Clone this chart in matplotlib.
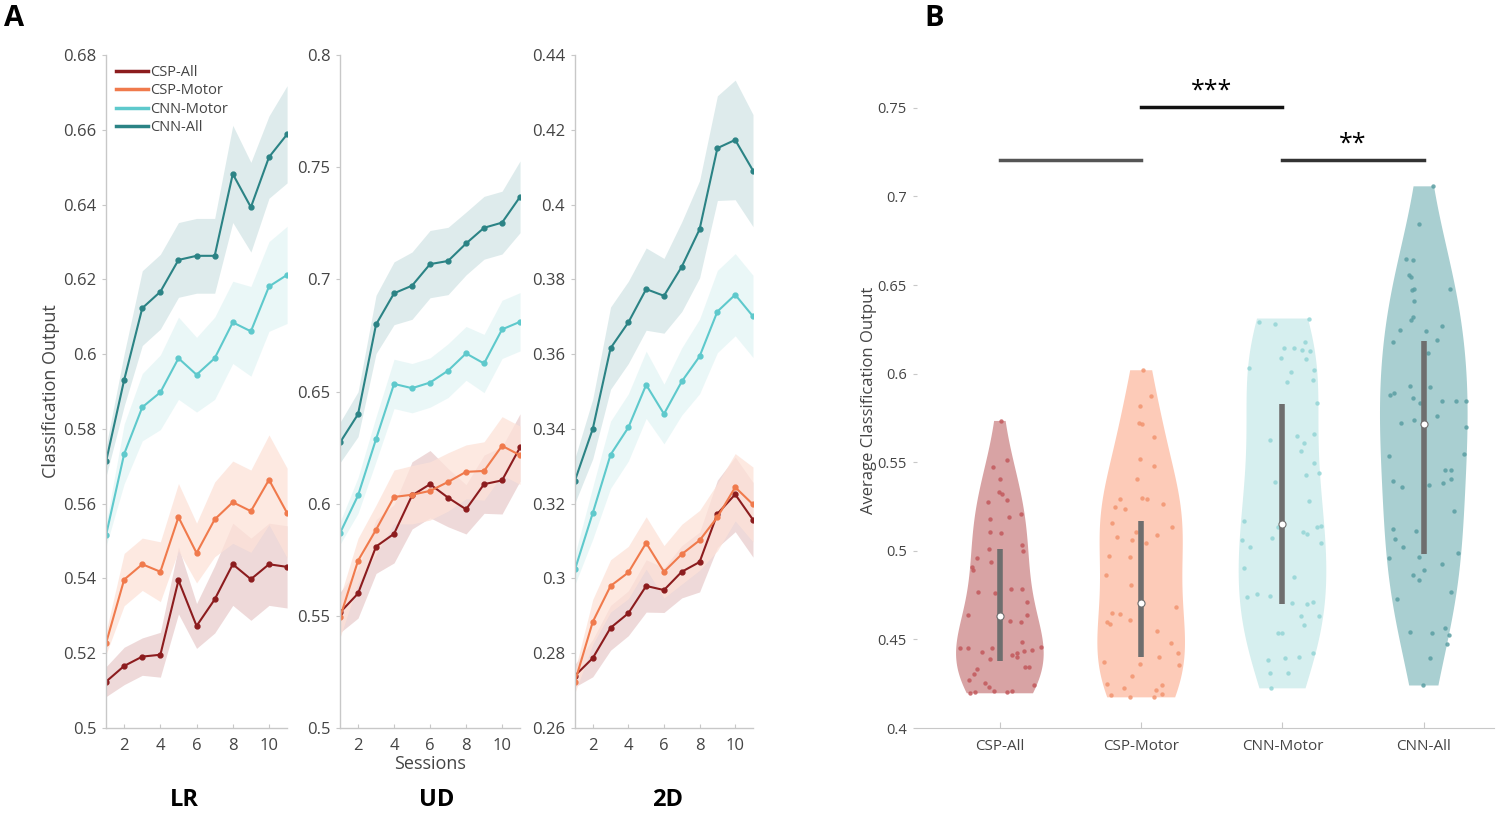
import numpy as np
import matplotlib
matplotlib.use("Agg")
import matplotlib.pyplot as plt

plt.rcParams['font.family'] = ['Open Sans', 'DejaVu Sans']

# ---------------- panel A data (mean and shaded band half-width per session)
sessions = np.arange(1, 12)
names = ["CSP-All", "CSP-Motor", "CNN-Motor", "CNN-All"]

lr_csp_all = [0.5124, 0.5166, 0.5191, 0.5196, 0.5395, 0.5273, 0.5344, 0.5438, 0.5398, 0.5438, 0.5431]
lr_csp_motor = [0.5227, 0.5397, 0.5438, 0.5418, 0.5564, 0.5468, 0.5558, 0.5604, 0.5580, 0.5664, 0.5575]
lr_cnn_motor = [0.5516, 0.5733, 0.5858, 0.5898, 0.5989, 0.5945, 0.5989, 0.6085, 0.6061, 0.6181, 0.6212]
lr_cnn_all = [0.5713, 0.5931, 0.6123, 0.6167, 0.6252, 0.6263, 0.6263, 0.6482, 0.6393, 0.6527, 0.6588]
lr_sem_csp_all = [0.004, 0.005, 0.005, 0.006, 0.009, 0.006, 0.009, 0.011, 0.011, 0.011, 0.011]
lr_sem_csp_motor = [0.003, 0.007, 0.007, 0.008, 0.009, 0.008, 0.010, 0.011, 0.011, 0.012, 0.012]
lr_sem_cnn_motor = [0.003, 0.008, 0.009, 0.010, 0.011, 0.010, 0.011, 0.011, 0.012, 0.012, 0.013]
lr_sem_cnn_all = [0.004, 0.007, 0.010, 0.010, 0.010, 0.010, 0.010, 0.013, 0.012, 0.011, 0.013]

ud_csp_all = [0.5515, 0.5600, 0.5809, 0.5866, 0.6037, 0.6087, 0.6027, 0.5975, 0.6087, 0.6104, 0.6251]
ud_csp_motor = [0.5493, 0.5746, 0.5884, 0.6030, 0.6040, 0.6057, 0.6097, 0.6142, 0.6146, 0.6258, 0.6216]
ud_cnn_motor = [0.5869, 0.6037, 0.6288, 0.6534, 0.6515, 0.6540, 0.6593, 0.6670, 0.6625, 0.6777, 0.6811]
ud_cnn_all = [0.6273, 0.6399, 0.6799, 0.6938, 0.6972, 0.7068, 0.7082, 0.7160, 0.7230, 0.7253, 0.7368]
ud_sem_csp_all = [0.009, 0.011, 0.012, 0.013, 0.015, 0.015, 0.013, 0.011, 0.013, 0.015, 0.015]
ud_sem_csp_motor = [0.009, 0.010, 0.011, 0.012, 0.013, 0.013, 0.013, 0.012, 0.013, 0.013, 0.013]
ud_sem_cnn_motor = [0.005, 0.008, 0.010, 0.011, 0.011, 0.011, 0.012, 0.012, 0.013, 0.013, 0.013]
ud_sem_cnn_all = [0.009, 0.010, 0.013, 0.014, 0.015, 0.015, 0.015, 0.014, 0.014, 0.014, 0.016]

d2_csp_all = [0.2740, 0.2787, 0.2868, 0.2907, 0.2980, 0.2969, 0.3018, 0.3044, 0.3173, 0.3225, 0.3157]
d2_csp_motor = [0.2724, 0.2884, 0.2980, 0.3016, 0.3095, 0.3018, 0.3065, 0.3102, 0.3164, 0.3244, 0.3198]
d2_cnn_motor = [0.3024, 0.3175, 0.3331, 0.3404, 0.3518, 0.3440, 0.3527, 0.3594, 0.3714, 0.3759, 0.3701]
d2_cnn_all = [0.3262, 0.3400, 0.3616, 0.3685, 0.3774, 0.3756, 0.3834, 0.3934, 0.4151, 0.4173, 0.4091]
d2_sem_csp_all = [0.003, 0.005, 0.006, 0.006, 0.007, 0.006, 0.007, 0.008, 0.009, 0.010, 0.010]
d2_sem_csp_motor = [0.003, 0.006, 0.007, 0.007, 0.007, 0.007, 0.008, 0.008, 0.009, 0.009, 0.010]
d2_sem_cnn_motor = [0.004, 0.007, 0.009, 0.009, 0.009, 0.008, 0.009, 0.010, 0.011, 0.011, 0.011]
d2_sem_cnn_all = [0.006, 0.008, 0.011, 0.011, 0.011, 0.010, 0.012, 0.013, 0.014, 0.016, 0.015]

line_colors = ["#8c1c1e", "#f07a4c", "#5ec9cc", "#2b8385"]
band_colors = ["#e9cdcd", "#fde2d8", "#e4f5f5", "#d3e5e6"]

# ---------------- panel B data (per-subject averages, jitter)
csp_all_vals = [0.5733, 0.5515, 0.5474, 0.5408, 0.5333, 0.5318, 0.5286, 0.5276, 0.5179, 0.5192,
                0.5207, 0.5107, 0.5102, 0.5032, 0.5000, 0.5010, 0.4938, 0.4961, 0.4910, 0.4891,
                0.4769, 0.4760, 0.4782, 0.4782, 0.4712, 0.4637, 0.4637, 0.4605, 0.4600, 0.4449,
                0.4449, 0.4430, 0.4449, 0.4387, 0.4412, 0.4421, 0.4399, 0.4436, 0.4440, 0.4459,
                0.4487, 0.4346, 0.4342, 0.4331, 0.4305, 0.4271, 0.4256, 0.4233, 0.4210, 0.4205,
                0.4205, 0.4243, 0.4209, 0.4196]
csp_all_jit = [0.005, 0.052, -0.047, 0.0, -0.007, 0.017, 0.052, -0.083, -0.071, 0.064,
               0.147, -0.071, 0.005, 0.154, 0.165, -0.078, -0.061, -0.161, -0.196, -0.191,
               -0.154, -0.035, 0.076, 0.154, 0.189, -0.225, 0.194, 0.071, 0.147, -0.284,
               -0.225, -0.125, -0.054, -0.071, 0.087, 0.118, 0.118, 0.170, 0.225, 0.288,
               0.158, 0.177, 0.206, -0.161, -0.184, -0.220, -0.106, -0.078, -0.043, -0.177,
               0.052, 0.241, 0.087, -0.208]
csp_motor_vals = [0.6019, 0.5872, 0.5816, 0.5722, 0.5715, 0.5640, 0.5521, 0.5478, 0.5408, 0.5290,
                  0.5299, 0.5290, 0.5263, 0.5248, 0.5235, 0.5158, 0.5132, 0.5107, 0.5079, 0.5060,
                  0.5089, 0.5042, 0.4970, 0.4966, 0.4863, 0.4807, 0.4647, 0.4643, 0.4600, 0.4587,
                  0.4609, 0.4684, 0.4549, 0.4481, 0.4425, 0.4402, 0.4374, 0.4361, 0.4355, 0.4293,
                  0.4248, 0.4224, 0.4214, 0.4243, 0.4186, 0.4173, 0.4175, 0.4190]
csp_motor_jit = [0.014, 0.066, -0.009, -0.017, 0.007, 0.090, -0.009, 0.090, -0.033, -0.147,
                 0.007, 0.043, 0.156, -0.182, -0.111, -0.206, 0.220, -0.040, -0.170, -0.064,
                 0.113, 0.031, -0.229, -0.076, -0.246, -0.071, -0.206, -0.147, -0.241, -0.222,
                 -0.076, 0.243, 0.113, 0.208, 0.260, 0.125, -0.265, -0.009, 0.267, -0.064,
                 -0.241, -0.123, 0.102, 0.149, -0.217, -0.080, 0.090, 0.149]
cnn_motor_vals = [0.6292, 0.6282, 0.6311, 0.6179, 0.6147, 0.6147, 0.6136, 0.6128, 0.6091, 0.6080,
                  0.6034, 0.6010, 0.6019, 0.5953, 0.5963, 0.5835, 0.5624, 0.5647, 0.5658, 0.5609,
                  0.5564, 0.5493, 0.5427, 0.5437, 0.5389, 0.5282, 0.5169, 0.5135, 0.5107, 0.5094,
                  0.5135, 0.5138, 0.5060, 0.5070, 0.5019, 0.5042, 0.4901, 0.4853, 0.4737, 0.4756,
                  0.4744, 0.4703, 0.4699, 0.4711, 0.4632, 0.4630, 0.4581, 0.4538, 0.4538, 0.4384,
                  0.4393, 0.4402, 0.4421, 0.4312, 0.4312, 0.4224]
cnn_motor_jit = [-0.165, -0.052, 0.189, 0.158, 0.012, 0.078, 0.135, 0.196, -0.012, 0.165,
                 -0.236, 0.059, 0.220, 0.031, 0.213, 0.243, -0.087, 0.106, 0.225, 0.149,
                 0.130, 0.225, 0.165, 0.260, -0.054, 0.189, -0.272, -0.035, 0.142, 0.177,
                 0.243, 0.272, -0.284, -0.071, -0.229, 0.272, -0.272, 0.078, -0.248, -0.177,
                 -0.087, 0.064, 0.177, 0.213, 0.130, 0.260, 0.149, -0.035, 0.0, -0.106,
                 0.017, 0.118, 0.213, -0.087, 0.040, -0.082]
cnn_all_vals = [0.7057, 0.6843, 0.6649, 0.6640, 0.6559, 0.6545, 0.6480, 0.6480, 0.6470, 0.6410,
                0.6320, 0.6301, 0.6249, 0.6267, 0.6241, 0.6179, 0.6188, 0.6117, 0.5929, 0.5922,
                0.5878, 0.5891, 0.5860, 0.5835, 0.5846, 0.5846, 0.5846, 0.5760, 0.5741, 0.5719,
                0.5696, 0.5534, 0.5545, 0.5455, 0.5455, 0.5408, 0.5395, 0.5358, 0.5371, 0.5380,
                0.5226, 0.5121, 0.5064, 0.5113, 0.5019, 0.4957, 0.4966, 0.4985, 0.4891, 0.4863,
                0.4835, 0.4925, 0.4769, 0.4726, 0.4543, 0.4534, 0.4562, 0.4525, 0.4474, 0.4393,
                0.4240]
cnn_all_jit = [0.066, -0.035, -0.123, -0.076, -0.106, -0.090, 0.184, -0.071, -0.083, -0.071,
               -0.076, -0.090, -0.165, 0.130, 0.019, -0.217, 0.090, 0.028, -0.095, 0.047,
               -0.241, -0.208, -0.076, -0.028, 0.130, 0.225, 0.296, 0.090, -0.071, -0.161,
               0.296, -0.248, 0.288, 0.147, 0.194, 0.194, -0.217, -0.154, 0.035, 0.137,
               0.217, -0.217, -0.201, -0.052, -0.147, -0.248, -0.035, 0.241, 0.0, -0.076,
               -0.035, 0.130, 0.189, -0.189, -0.099, 0.059, 0.147, 0.177, 0.161, 0.047,
               -0.005]

medians = [0.4632, 0.4703, 0.5149, 0.5713]
q_low = [0.4380, 0.4399, 0.4700, 0.4981]
q_high = [0.5008, 0.5169, 0.5831, 0.6185]

violin_colors = ["#d8a3a4", "#fdcbb8", "#d6efef", "#a9cfd1"]
point_colors = ["#c2585c", "#f2946f", "#93d5d6", "#5a9ea2"]

# ---------------- figure
fig = plt.figure(figsize=(15, 8.18), dpi=100)

panels = [
    ("LR", [0.0707, 0.110, 0.1207, 0.8227], (0.5, 0.68), [0.5, 0.52, 0.54, 0.56, 0.58, 0.6, 0.62, 0.64, 0.66, 0.68],
     [lr_csp_all, lr_csp_motor, lr_cnn_motor, lr_cnn_all],
     [lr_sem_csp_all, lr_sem_csp_motor, lr_sem_cnn_motor, lr_sem_cnn_all], 0.123),
    ("UD", [0.2267, 0.110, 0.1200, 0.8227], (0.5, 0.8), [0.5, 0.55, 0.6, 0.65, 0.7, 0.75, 0.8],
     [ud_csp_all, ud_csp_motor, ud_cnn_motor, ud_cnn_all],
     [ud_sem_csp_all, ud_sem_csp_motor, ud_sem_cnn_motor, ud_sem_cnn_all], 0.291),
    ("2D", [0.3833, 0.110, 0.1187, 0.8227], (0.26, 0.44), [0.26, 0.28, 0.3, 0.32, 0.34, 0.36, 0.38, 0.4, 0.42, 0.44],
     [d2_csp_all, d2_csp_motor, d2_cnn_motor, d2_cnn_all],
     [d2_sem_csp_all, d2_sem_csp_motor, d2_sem_cnn_motor, d2_sem_cnn_all], 0.445),
]

axes_a = []
for title, rect, ylim, yticks, means, sems, title_x in panels:
    ax = fig.add_axes(rect)
    for m, s, bc in zip(means, sems, band_colors):
        m = np.array(m)
        s = np.array(s)
        ax.fill_between(sessions, m - s, m + s, color=bc, alpha=0.75, lw=0)
    for m, lc, nm in zip(means, line_colors, names):
        ax.plot(sessions, m, color=lc, lw=1.5, marker="o", ms=3.5, label=nm)
    ax.set_xlim(1, 11)
    ax.set_ylim(*ylim)
    ax.set_yticks(yticks)
    ax.set_yticklabels([("%g" % t) for t in yticks])
    ax.set_xticks([2, 4, 6, 8, 10])
    for sp in ["top", "right"]:
        ax.spines[sp].set_visible(False)
    for sp in ["left", "bottom"]:
        ax.spines[sp].set_color("#c8c8c8")
        ax.spines[sp].set_linewidth(1.0)
    ax.tick_params(axis="y", direction="out", length=3, color="#c8c8c8", labelsize=12,
                   labelcolor="#444444", pad=4)
    ax.tick_params(axis="x", direction="in", length=3, color="#c8c8c8", labelsize=12,
                   labelcolor="#444444", pad=7)
    fig.text(title_x, 1 - 800 / 818, title, fontsize=17, fontweight="bold", ha="center", va="center")
    axes_a.append(ax)

axes_a[0].set_ylabel("Classification Output", fontsize=13, color="#444444", labelpad=2)
axes_a[1].set_xlabel("Sessions", fontsize=13, color="#444444", labelpad=1)
leg = axes_a[0].legend(loc="upper left", bbox_to_anchor=(0.0, 1.0), frameon=False, fontsize=10.5,
                       handlelength=2.2, handletextpad=0.1, labelspacing=0.22, borderaxespad=0.3)
for h in leg.get_lines():
    h.set_marker("")
    h.set_linewidth(2.5)
for t in leg.get_texts():
    t.set_color("#444444")

# ---------------- panel B
axb = fig.add_axes([0.611, 0.110, 0.3853, 0.8015])
groups = [csp_all_vals, csp_motor_vals, cnn_motor_vals, cnn_all_vals]
jits = [csp_all_jit, csp_motor_jit, cnn_motor_jit, cnn_all_jit]
pos = [1, 2, 3, 4]
vp = axb.violinplot(groups, positions=pos, widths=0.62, showextrema=False, bw_method=0.55)
for body, c in zip(vp["bodies"], violin_colors):
    body.set_facecolor(c)
    body.set_edgecolor("none")
    body.set_alpha(1)
for p, v, j, c in zip(pos, groups, jits, point_colors):
    axb.scatter(p + np.array(j), v, s=10, color=c, alpha=0.85, lw=0, zorder=3)
axb.vlines(pos, q_low, q_high, color="#6e6e6e", lw=4, zorder=4)
axb.scatter(pos, medians, s=26, color="white", edgecolor="#6e6e6e", lw=0.8, zorder=5)

# significance bars
axb.plot([1, 2], [0.7204, 0.7204], color="#555555", lw=2.5)
axb.plot([2, 3], [0.7503, 0.7503], color="#111111", lw=2.5)
axb.plot([3, 4], [0.7204, 0.7204], color="#333333", lw=2.5)
axb.text(2.5, 0.7525, "***", ha="center", va="bottom", fontsize=18)
axb.text(3.5, 0.7225, "**", ha="center", va="bottom", fontsize=18)

axb.set_xlim(0.41, 4.5)
axb.set_ylim(0.4, 0.77)
axb.set_xticks(pos)
axb.set_xticklabels(names)
axb.set_yticks([0.4, 0.45, 0.5, 0.55, 0.6, 0.65, 0.7, 0.75])
axb.set_yticklabels(["0.4", "0.45", "0.5", "0.55", "0.6", "0.65", "0.7", "0.75"])
for sp in ["top", "right", "left"]:
    axb.spines[sp].set_visible(False)
axb.spines["bottom"].set_color("#c8c8c8")
axb.tick_params(axis="y", direction="out", length=3, color="#c8c8c8", labelsize=10.5,
                labelcolor="#444444", pad=4)
axb.tick_params(axis="x", direction="in", length=4, color="#c8c8c8", labelsize=11,
                labelcolor="#444444", pad=8)
axb.set_ylabel("Average Classification Output", fontsize=12, color="#444444", labelpad=0)

fig.text(0.003, 0.995, "A", fontsize=21, fontweight="bold", ha="left", va="top")
fig.text(0.616, 0.995, "B", fontsize=21, fontweight="bold", ha="left", va="top")

fig.savefig("out.png", dpi=100)
